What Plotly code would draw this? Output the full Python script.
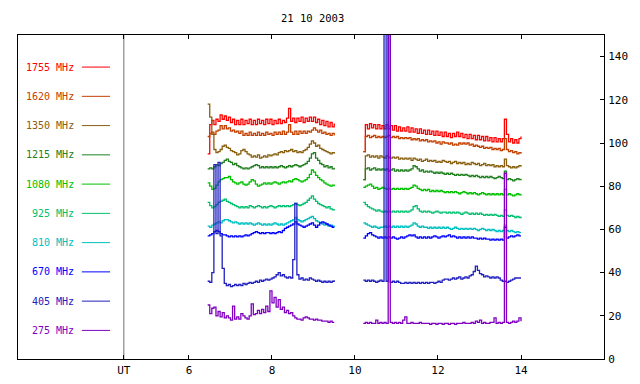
import plotly.graph_objects as go

# ---------------- data ----------------
title_text = "21 10 2003"
freqs = ["1755 MHz", "1620 MHz", "1350 MHz", "1215 MHz", "1080 MHz",
         "925 MHz", "810 MHz", "670 MHz", "405 MHz", "275 MHz"]
colors = ["#ff0000", "#c44000", "#886010", "#208020", "#00c000",
          "#00c070", "#00c0c0", "#0000ff", "#2020c0", "#8000c0"]

# time grids (UT hours): morning block and afternoon block
t_a = [round(6.45 + 0.05 * i, 2) for i in range(62)]    # 6.45 .. 9.50
t_b = [round(10.20 + 0.05 * j, 2) for j in range(77)]   # 10.20 .. 14.00

OFF = 400  # off-scale burst values

s1755_a = [95, 108.5, 110.5, 108.5, 111, 110, 113, 111, 112.5, 110.5,
           112, 109.5, 111, 108.5, 110.5, 108.5, 111, 108.5, 110.5, 109,
           111, 108.5, 110.5, 108.5, 111, 109, 110.5, 108.5, 111, 109,
           111, 108.5, 110.5, 109, 111, 109, 110.5, 109.5, 111.5, 116,
           110, 111.5, 109.5, 111.5, 110, 112, 109.5, 111.5, 110, 112,
           110, 112, 109.5, 111, 108.5, 110.5, 108, 110, 107.5, 109.5,
           107.5, 109]
s1755_b = [96, 108.5, 106.5, 109, 107, 108.5, 106.5, 108.5, 106.5, 108,
           106.5, 108.5, 106.5, 108, 106, 108, 105.5, 107.5, 105.5, 107,
           105.5, 107.5, 105, 107, 105, 106.5, 104.5, 106.5, 104.5, 106,
           104, 106, 104, 105.5, 103.5, 105.5, 103.5, 105, 103, 105,
           103, 104.5, 102.5, 104.5, 103, 105, 103, 104.5, 102.5, 104,
           102, 104, 102, 103.5, 101.5, 103.5, 101.5, 103, 101, 103,
           101, 102.5, 100.5, 102.5, 100.5, 102, 100.5, 102, 111, 104,
           100.5, 102, 100, 101.5, 100, 102, 103]

s1620_a = [103, 104.5, 105, 104, 105.5, 106, 108, 106.5, 108, 106.5,
           107, 105.5, 106, 105, 105.5, 104.5, 105.5, 103.5, 104.5, 103.5,
           105, 103.5, 104.5, 103.5, 105, 103.5, 104.5, 103.5, 105, 104,
           104.5, 103.5, 105, 104, 105, 104, 105.5, 104, 105, 108.5,
           105, 104, 105.5, 104, 105.5, 104.5, 105.5, 104.5, 105.5, 105,
           106, 107, 106, 105, 106, 104.5, 105, 104, 104.5, 103.5,
           104.5, 103.5]
s1620_b = [96, 103, 103.5, 102.5, 103, 103.5, 102.5, 103, 102.5, 103,
           102.5, 103, 103.5, 102.5, 103, 102.5, 103, 102, 102.5, 102,
           102.5, 102, 102.5, 101.5, 102, 101.5, 102, 101, 101.5, 101,
           101.5, 100.5, 101, 100.5, 101, 100, 100.5, 99.5, 100.5, 100,
           100, 99.5, 100, 99, 99.5, 99, 100, 99.5, 100, 99.5,
           100, 99, 99.5, 98.5, 99, 98.5, 98, 98.5, 97.5, 98,
           97.5, 98, 97, 97.5, 97, 97.5, 96.5, 97, 102, 97,
           96, 96.5, 95.5, 96, 95, 95.5, 95]

s1350_a = [118, 112, 104, 97, 95.5, 96, 97, 98.5, 99, 98,
           97.5, 96.5, 96, 95.5, 94.5, 95, 96.5, 97, 96, 95,
           94.5, 93.5, 94, 93.5, 94.5, 93, 93.5, 94, 93.5, 94.5,
           94, 94.5, 95, 94.5, 95.5, 96, 95.5, 96.5, 96, 96.5,
           97, 96, 96.5, 95.5, 96, 95.5, 96.5, 97, 98, 99.5,
           101, 100, 98.5, 99, 97.5, 97, 96.5, 96, 95.5, 95,
           95.5, 95]
s1350_b = [83, 94, 94.5, 93.5, 94, 93.5, 94, 93, 94, 93.5,
           93, 94, 93.5, 93, 93.5, 93, 93.5, 92.5, 93, 92.5,
           93, 92.5, 93, 92, 93, 92.5, 92, 92.5, 91.5, 92,
           92.5, 91.5, 92, 91.5, 92, 91, 91.5, 91, 92, 91.5,
           91, 91.5, 90.5, 91, 91.5, 90.5, 91, 90.5, 91, 90,
           90.5, 90, 91, 90.5, 90, 90.5, 89.5, 90, 90.5, 89.5,
           90, 89.5, 90, 89, 89.5, 89, 89.5, 89, 92.5, 89.5,
           89, 88.5, 89, 88.5, 89, 89.5, 89]

s1215_a = [88, 88.5, 88, 89, 90, 89.5, 90.5, 91, 92, 92.5,
           91.5, 91, 90, 90.5, 89.5, 89, 88.5, 88, 88.5, 88,
           88.5, 89, 89.5, 90, 89.5, 88.5, 89, 88.5, 89, 88.5,
           89, 88.5, 89, 88.5, 89, 89.5, 89, 88.5, 89, 89.5,
           89, 89.5, 90, 89.5, 89, 89.5, 90, 90.5, 91.5, 93,
           95, 95.5, 93, 92, 90.5, 90, 89, 89.5, 88.5, 89,
           88, 88.5]
s1215_b = [83, 88, 88.5, 87.5, 88, 88.5, 87.5, 88, 87.5, 88,
           87.5, 88, 87, 87.5, 88, 87, 87.5, 87, 87.5, 87,
           87.5, 87, 87.5, 88, 89.5, 89, 88, 87, 87.5, 86.5,
           87, 86.5, 87, 86.5, 86, 86.5, 86, 86.5, 86, 85.5,
           86, 85.5, 86, 85.5, 85, 85.5, 85, 85.5, 85, 85.5,
           85, 84.5, 85, 84.5, 85, 84.5, 84, 84.5, 84, 84.5,
           84, 84.5, 84, 83.5, 84, 84.5, 84, 83.5, 87, 83,
           83.5, 83, 82.5, 83, 83.5, 83, 83.5]

s1080_a = [81.5, 80, 78.5, 79, 80.5, 82, 83, 83.5, 84, 84,
           84.5, 83, 82, 81.5, 81, 81.5, 82, 81, 80.5, 81,
           82, 83, 82.5, 81, 80, 80.5, 81, 81.5, 81, 81.5,
           81, 81.5, 82, 81.5, 81, 81.5, 82, 81.5, 82, 82.5,
           82, 83, 83.5, 83, 82.5, 82, 82.5, 83, 84, 85.5,
           87.5, 86.5, 85, 84, 83, 82.5, 81.5, 81, 80.5, 80,
           80.5, 80]
s1080_b = [79.5, 80, 80.5, 81, 80, 79, 79.5, 78.5, 79, 79.5,
           79, 78.5, 79, 78.5, 79, 78.5, 79, 78.5, 79, 78.5,
           79, 78.5, 79, 79.5, 80.5, 80, 79, 78.5, 78, 78.5,
           78, 78.5, 77.5, 78, 77.5, 78, 77.5, 78, 77.5, 77,
           77.5, 77, 77.5, 77, 77.5, 77, 76.5, 77, 77.5, 77,
           76.5, 77, 76.5, 77, 76.5, 76, 76.5, 77, 76.5, 76,
           76.5, 76, 76.5, 76, 76.5, 76, 76.5, 76, 78.5, 76,
           76.5, 76, 75.5, 76, 76.5, 76, 76.5]

s925_a = [72.5, 71, 70, 70.5, 71.5, 72.5, 73, 73.5, 74, 73,
          72.5, 72, 71.5, 71, 70.5, 70, 70.5, 70, 70.5, 70,
          71, 70.5, 70, 70.5, 71, 70.5, 70, 70.5, 70, 70.5,
          71, 70.5, 70, 70.5, 71, 70.5, 71, 70.5, 71, 70.5,
          71, 71.5, 72, 71.5, 71, 71.5, 72, 72.5, 73.5, 74.5,
          75.5, 74, 73, 72, 71.5, 71, 70.5, 70, 70.5, 69.5,
          69, 69.5]
s925_b = [72.5, 71.5, 70.5, 70, 69.5, 69, 68.5, 69, 68.5, 68,
          68.5, 68, 68.5, 68, 68.5, 68, 68.5, 68, 68.5, 68,
          68.5, 68, 68.5, 69, 70.5, 71, 69.5, 68.5, 68, 68.5,
          68, 68.5, 68, 67.5, 68, 68.5, 68, 67.5, 68, 68,
          67.5, 68, 67.5, 68, 67.5, 68, 67.5, 67, 67.5, 68,
          67.5, 67, 67.5, 67, 67.5, 67, 67.5, 67, 66.5, 67,
          66.5, 67, 66.5, 67, 66.5, 66, 66.5, 66, 69, 66.5,
          66, 66.5, 66, 65.5, 66, 65.5, 66]

s810_a = [61.5, 61, 62, 62.5, 63, 63.5, 63, 64, 64.5, 64.5,
          64, 63.5, 63, 63.5, 63, 62.5, 63, 62.5, 63, 62.5,
          63, 62.5, 62, 62.5, 63, 62.5, 62, 62.5, 62, 62.5,
          62, 62.5, 63, 62.5, 62, 62.5, 62, 62.5, 63, 63.5,
          64, 64.5, 65.5, 64.5, 64, 63.5, 64, 64.5, 65, 65.5,
          66, 65, 64, 63.5, 63, 62.5, 62, 62.5, 61.5, 62,
          61.5, 61]
s810_b = [63, 62.5, 62, 61.5, 61, 61.5, 61, 60.5, 61, 61,
          61.5, 61, 61.5, 61, 61.5, 61, 61.5, 61, 61.5, 61,
          61.5, 61, 61.5, 62, 63, 62.5, 61.5, 61, 61.5, 61,
          61, 60.5, 61, 60.5, 61, 60.5, 61, 60.5, 61, 60.5,
          61, 60.5, 60, 60.5, 61, 60.5, 60, 60.5, 60, 60.5,
          60, 60.5, 60, 60.5, 60, 59.5, 60, 60.5, 60, 59.5,
          60, 59.5, 60, 59.5, 59, 59.5, 59, 59.5, 62, 59.5,
          59, 59.5, 59, 58.5, 59, 58.5, 58.5]

s670_a = [57, 57.5, 58, 59, 59.5, 59, 58, 57.5, 57.5, 57,
          56.5, 57, 56.5, 57, 56.5, 57, 56.5, 57, 57.5, 57,
          57.5, 58, 58.5, 59, 58.5, 58, 58.5, 58, 58.5, 58.5,
          58, 58.5, 58, 58.5, 59, 58.5, 59.5, 60.5, 61, 61.5,
          62, 62.5, 63.5, 62.5, 62, 61.5, 61, 61.5, 62, 62.5,
          63, 62, 61, 62, 63, 63.5, 63, 62.5, 62, 61.5,
          61, 61]
s670_b = [56, 57, 58, 58.5, 57.5, 57, 56.5, 56, 56.5, 56,
          56.5, 56, 56.5, 56, 56.5, 56, 55.5, 56, 56.5, 56,
          56.5, 57, 57.5, 57, 57.5, 56.5, 56, 56.5, 56, 56.5,
          56, 56.5, 56, 56.5, 57, 56.5, 56, 56.5, 57, 56.5,
          57, 57.5, 56.5, 57, 56.5, 56, 56.5, 56, 56.5, 56,
          56.5, 56, 56.5, 56, 56, 55.5, 56, 55.5, 56, 55.5,
          55.5, 55, 55.5, 55, 55.5, 55, 55.5, 55, 61, 56,
          56.5, 57, 56.5, 57, 57.5, 57, 57]

s405_a = [36, 35.5, 40, 90, 58, 91, 57, 42, 35, 34,
          34.5, 33.5, 34, 34.5, 34, 34.5, 34, 35, 34.5, 35,
          35.5, 35, 35.5, 36, 35.5, 36.5, 36, 36.5, 37, 36.5,
          37, 37.5, 38, 39, 40, 38.5, 39, 38, 37.5, 38,
          37.5, 46, 72, 39, 37, 37.5, 36.5, 37, 36.5, 37.5,
          37, 36.5, 36, 36.5, 36, 35.5, 36, 35.5, 36, 35.5,
          36, 36.5]
s405_b = [36.5, 36, 36.5, 36, 36.5, 36, 35.5, 36, 36.5, 36,
          OFF, 36, OFF, 35.5, 36, 35.5, 36, 35.5, 35, 35,
          35.5, 35, 35.5, 35, 35.5, 35, 35.5, 35, 35.5, 35,
          35.5, 35, 35.5, 35.5, 35, 35.5, 36, 35.5, 36.5, 37,
          37, 36.5, 37, 37.5, 37, 37.5, 38, 37, 37.5, 38,
          37.5, 38.5, 39, 40.5, 43, 41, 39.5, 39, 38, 38.5,
          38, 37.5, 38, 37.5, 38, 37.5, 36.5, 36, 36, 35.5,
          36, 36.5, 37, 37.5, 37.5, 37.5, 37.5]

s275_a = [25, 21, 23.5, 24, 20, 22, 19.5, 21.5, 19, 20,
          19, 18, 24.5, 18.5, 19.5, 18.5, 21, 20, 19, 18.5,
          20, 25.5, 20.5, 21, 22.5, 21, 23, 21.5, 24.5, 22,
          31.5, 26, 28.5, 24, 27.5, 23, 24, 21.5, 22.5, 21,
          21.5, 20, 19, 18.5, 18.5, 18, 19, 19.5, 19, 18.5,
          18.5, 18, 18.5, 18, 18, 17.5, 17.5, 17.5, 17, 17.5,
          17, 17]
s275_b = [16.5, 17, 16.5, 17, 16.5, 16.5, 18, 16.5, 17, 16.5,
          17, 16.5, OFF, 17, 16.5, 17, 16.5, 17, 16.5, 18,
          19.5, 16.5, 16.5, 17, 16.5, 16.5, 16.5, 17, 16.5, 16.5,
          16.5, 16.5, 16, 16.5, 16.5, 16, 16.5, 16.5, 16, 16.5,
          16.5, 16, 16.5, 16.5, 16, 16.5, 16.5, 16.5, 17, 16.5,
          16.5, 16.5, 17, 16.5, 17.5, 17, 18, 16.5, 17, 16.5,
          16.5, 17, 17, 19, 16.5, 17, 16.5, 17, 86, 17,
          16.5, 17, 17.5, 17, 17.5, 19, 17.5]

series_a = [s1755_a, s1620_a, s1350_a, s1215_a, s1080_a,
            s925_a, s810_a, s670_a, s405_a, s275_a]
series_b = [s1755_b, s1620_b, s1350_b, s1215_b, s1080_b,
            s925_b, s810_b, s670_b, s405_b, s275_b]

x_ticks = [4.43, 6, 8, 10, 12, 14]
x_ticktext = ["UT", "6", "8", "10", "12", "14"]
ut_mark = 4.43

# ---------------- figure ----------------
FONT = "DejaVu Sans Mono"
fig = go.Figure()
for name, col, a, b in zip(freqs, colors, series_a, series_b):
    fig.add_trace(go.Scatter(
        x=t_a + [None] + t_b,
        y=a + [None] + b,
        mode="lines", name=name,
        line=dict(color=col, width=1.3, shape="hv"),
        connectgaps=False, showlegend=False, hoverinfo="skip"))

# custom legend: label on the left, sample line to its right
leg_top = 0.901
leg_step = 0.0903
for k, (name, col) in enumerate(zip(freqs, colors)):
    yy = leg_top - k * leg_step
    fig.add_annotation(x=0.0985, y=yy, xref="paper", yref="paper",
                       text=name, showarrow=False, xanchor="right",
                       yanchor="middle",
                       font=dict(family=FONT, size=10, color=col))
    fig.add_shape(type="line", xref="paper", yref="paper",
                  x0=0.109, x1=0.157, y0=yy, y1=yy,
                  line=dict(color=col, width=1))

# UT separator line
fig.add_shape(type="line", xref="x", yref="paper", x0=ut_mark, x1=ut_mark,
              y0=0, y1=1, line=dict(color="#707070", width=1), layer="below")

fig.add_annotation(x=0.503, y=1.054, xref="paper", yref="paper",
                   text=title_text, showarrow=False, xanchor="center",
                   yanchor="middle", font=dict(family=FONT, size=10.5, color="black"))

fig.update_xaxes(range=[1.88, 16], tickvals=x_ticks, ticktext=x_ticktext,
                 ticks="inside", ticklen=4, tickcolor="black",
                 ticklabelstandoff=1, automargin=False,
                 mirror="ticks", showline=True, linecolor="black", linewidth=1,
                 showgrid=False, zeroline=False,
                 tickfont=dict(family=FONT, size=11, color="black"))
fig.update_yaxes(range=[0, 150], dtick=20, tick0=0, side="right",
                 ticks="inside", ticklen=4, tickcolor="black",
                 ticklabelstandoff=1, automargin=False,
                 mirror=True, showline=True, linecolor="black", linewidth=1,
                 showgrid=False, zeroline=False,
                 tickfont=dict(family=FONT, size=11, color="black"))

# page body has an 8px margin, so the figure is sized 632x376 to land
# the frame where the reference frame sits in the 640x384 window
fig.update_layout(width=632, height=376,
                  margin=dict(l=10, r=36, t=27, b=25),
                  paper_bgcolor="white", plot_bgcolor="white",
                  showlegend=False)

fig.write_html("out.html")
